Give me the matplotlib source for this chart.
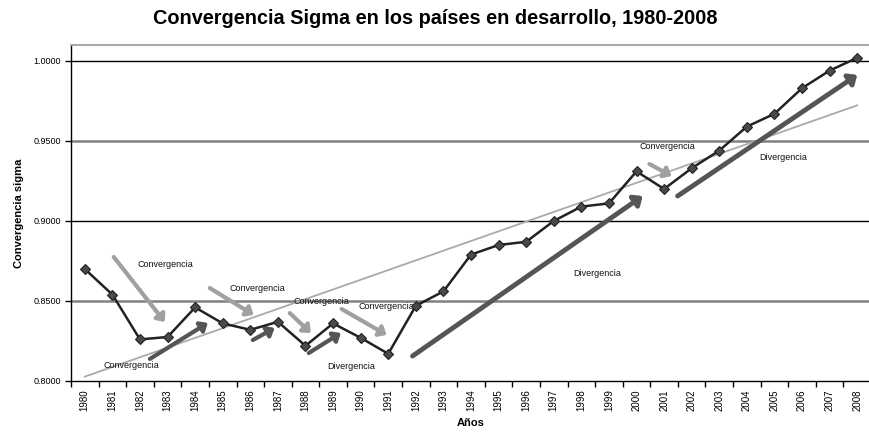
import matplotlib
matplotlib.use("Agg")
import matplotlib.pyplot as plt
import numpy as np

years = list(range(1980, 2009))
sigma = [0.870, 0.854, 0.826, 0.8275, 0.846, 0.836, 0.832, 0.837, 0.822, 0.836,
         0.827, 0.817, 0.847, 0.856, 0.879, 0.885, 0.887, 0.900, 0.909, 0.911,
         0.931, 0.920, 0.933, 0.944, 0.959, 0.967, 0.983, 0.994, 1.002]

yticks = [0.80, 0.85, 0.90, 0.95, 1.00]

# annotation arrows: (x_start, y_start, x_end, y_end, kind) in data units (x = year index)
arrows = [
    (1.05, 0.8775, 2.90, 0.8369, "conv"),
    (2.36, 0.8138, 4.46, 0.8363, "div"),
    (4.53, 0.8581, 6.12, 0.8413, "conv"),
    (6.09, 0.8256, 6.88, 0.8331, "div"),
    (7.43, 0.8425, 8.19, 0.8300, "conv"),
    (8.12, 0.8175, 9.28, 0.8300, "div"),
    (9.31, 0.8450, 10.94, 0.8288, "conv"),
    (11.88, 0.8156, 20.22, 0.9156, "divL"),
    (20.47, 0.9356, 21.27, 0.9281, "conv"),
    (21.49, 0.9156, 28.00, 0.9913, "divL"),
]
labels = [
    (2.93, 0.8731, "Convergencia"),
    (1.70, 0.8094, "Convergencia"),
    (6.27, 0.8581, "Convergencia"),
    (8.59, 0.8500, "Convergencia"),
    (10.94, 0.8463, "Convergencia"),
    (9.64, 0.8088, "Divergencia"),
    (18.59, 0.8669, "Divergencia"),
    (21.12, 0.9463, "Convergencia"),
    (25.33, 0.9394, "Divergencia"),
]

plt.rcParams['font.family'] = ['Liberation Sans', 'DejaVu Sans']

fig = plt.figure(figsize=(8.7, 4.33), dpi=100)
ax = fig.add_axes([71/870, 1-381/433, 800/870, (381-45)/433])

x = np.arange(len(years))
ax.set_xlim(-0.5, len(years) - 0.5)
ax.set_ylim(0.80, 1.01)

# gridlines
for i, v in enumerate(yticks[1:]):
    if i % 2 == 0:
        ax.axhline(v, color='#808080', lw=1.8, zorder=1)
    else:
        ax.axhline(v, color='black', lw=1.0, zorder=1)

# trend line
coef = np.polyfit(x, sigma, 1)
ax.plot(x, np.polyval(coef, x), color='#aaaaaa', lw=1.3, zorder=2)

# arrows
for xs, ys, xe, ye, kind in arrows:
    if kind == "conv":
        col, lw, hw, hl = '#a0a0a0', 3.0, 7, 8
    elif kind == "div":
        col, lw, hw, hl = '#555555', 3.0, 7, 8
    else:
        col, lw, hw, hl = '#555555', 3.5, 8, 9
    ax.annotate("", xy=(xe, ye), xytext=(xs, ys),
                arrowprops=dict(arrowstyle=f"-|>,head_width={hw/20:.2f},head_length={hl/20:.2f}",
                                color=col, lw=lw, shrinkA=0, shrinkB=0),
                zorder=3)

for lx, ly, t in labels:
    ax.text(lx, ly, t, fontsize=6.5, ha='center', va='center', color='#111111', zorder=4)

# main series
ax.plot(x, sigma, color='#222222', lw=1.8, marker='D', markersize=5.5,
        markerfacecolor='#4a4a4a', markeredgecolor='#222222', markeredgewidth=0.8, zorder=5)

# axes styling
ax.spines['right'].set_visible(False)
ax.spines['top'].set_color('#aaaaaa')
ax.spines['top'].set_linewidth(1.5)
ax.spines['left'].set_linewidth(1.0)
ax.spines['bottom'].set_linewidth(1.0)

ax.set_yticks(yticks)
ax.set_yticklabels([f"{v:.4f}" for v in yticks], fontsize=6.5)
ax.tick_params(axis='y', length=4, width=1, pad=3)

ax.set_xticks(x)
ax.set_xticklabels([str(y) for y in years], rotation=90, fontsize=7)
ax.set_xticks(np.arange(-0.5, len(years) + 0.5, 1), minor=True)
ax.tick_params(axis='x', which='major', length=0, pad=6)
ax.tick_params(axis='x', which='minor', length=4, width=1)

ax.set_xlabel("Años", fontsize=8, fontweight='bold', labelpad=5)
ax.set_ylabel("Convergencia sigma", fontsize=8, fontweight='bold', labelpad=7)

fig.text(0.5, 1-18/433, "Convergencia Sigma en los países en desarrollo, 1980-2008",
         ha='center', va='center', fontsize=14.3, fontweight='bold')

fig.savefig("out.png", dpi=100)
